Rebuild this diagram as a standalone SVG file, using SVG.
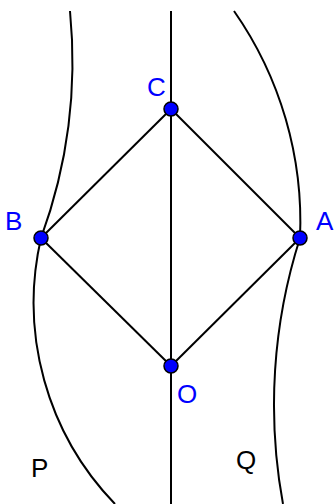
<svg xmlns="http://www.w3.org/2000/svg" width="334" height="504" viewBox="0 0 334 504">
<style>
.ln{fill:none;stroke:#000;stroke-width:2}
.pt{fill:#0000FF;stroke:#000;stroke-width:1.5}
.lb{font-family:"Liberation Sans",Arial,sans-serif;font-size:26px;fill:#0000FF}
.cl{font-family:"Liberation Sans",Arial,sans-serif;font-size:26px;fill:#000}
</style>
<rect width="334" height="504" fill="#fff"/>
<g id="curveP">
<path class="ln" d="M70,11 A515,515 0 0,1 41,238"/>
<path class="ln" d="M41,238 A289.5,289.5 0 0,0 115,504"/>
<text class="cl" x="31" y="477">P</text>
</g>
<g id="curveQ">
<path class="ln" d="M234,11 A368,368 0 0,1 300,238"/>
<path class="ln" d="M300,238 A548.6,548.6 0 0,0 283,504"/>
<text class="cl" x="236" y="469">Q</text>
</g>
<g id="connectors">
<line class="ln" x1="171" y1="11" x2="171" y2="504"/>
<line class="ln" x1="171" y1="109" x2="41" y2="238"/>
<line class="ln" x1="171" y1="109" x2="300" y2="238"/>
<line class="ln" x1="41" y1="238" x2="171" y2="366"/>
<line class="ln" x1="300" y1="238" x2="171" y2="366"/>
</g>
<g id="C"><circle class="pt" cx="171" cy="109" r="7"/><text class="lb" x="147" y="96">C</text></g>
<g id="B"><circle class="pt" cx="41" cy="238" r="7"/><text class="lb" x="5" y="230">B</text></g>
<g id="A"><circle class="pt" cx="300" cy="238" r="7"/><text class="lb" x="316" y="230">A</text></g>
<g id="O"><circle class="pt" cx="171" cy="366" r="7"/><text class="lb" x="177" y="403">O</text></g>
</svg>
